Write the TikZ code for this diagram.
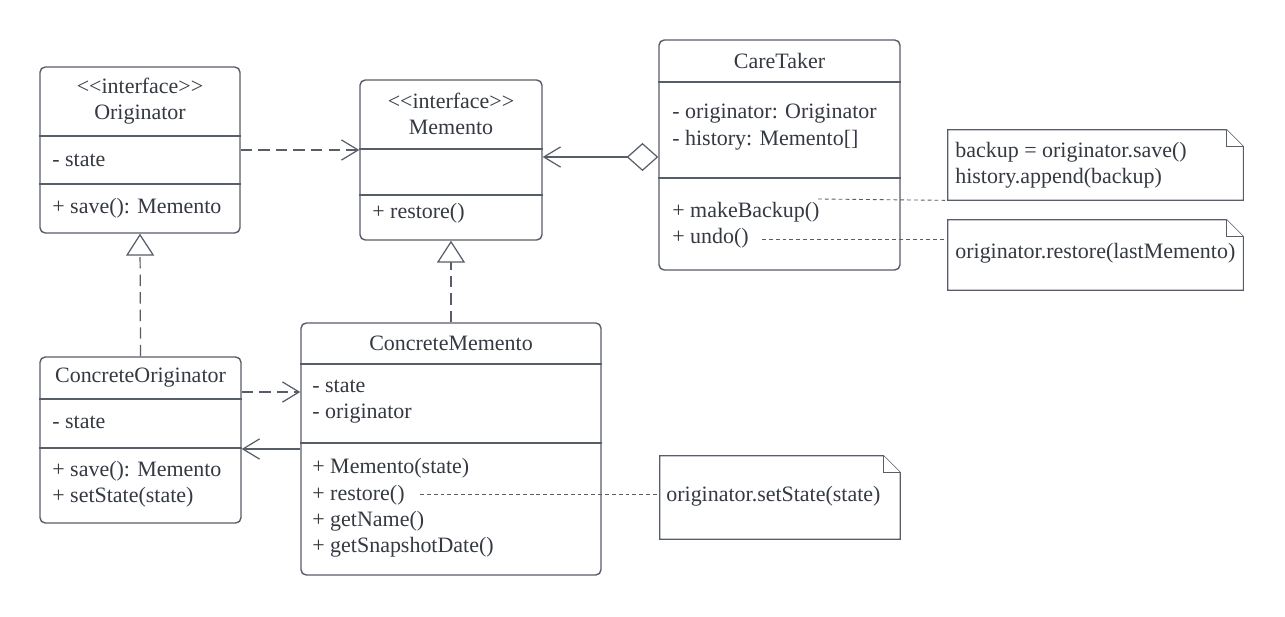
\documentclass[tikz,border=0pt]{standalone}
\usepackage{fontspec}
\setmainfont{Liberation Serif}
\usetikzlibrary{arrows.meta,positioning,fit,calc}

\definecolor{umlline}{RGB}{88,94,104}
\definecolor{umltext}{RGB}{52,57,66}

\begin{document}
\begin{tikzpicture}[x=0.02cm, y=-0.02cm,
  every node/.style={font=\fontsize{12.5}{15}\selectfont, text=umltext},
  cls/.style={draw=umlline, line width=0.8pt, rounded corners=3pt, inner sep=0pt},
  sep/.style={draw=umlline, line width=0.8pt},
  title/.style={align=center, inner sep=0pt},
  member/.style={anchor=west, align=left, inner sep=0pt},
  notebox/.style={draw=umlline, line width=0.7pt, fill=white},
  dep/.style={draw=umlline, line width=0.7pt, dash pattern=on 6.5pt off 3.5pt, -{Straight Barb[length=9.5pt,width=11.5pt]}},
  assoc/.style={draw=umlline, line width=0.7pt, -{Straight Barb[length=9.5pt,width=11.5pt]}},
  real/.style={draw=umlline, line width=0.7pt, dash pattern=on 6.5pt off 3.5pt, -{Triangle[length=12.5pt,width=16pt,fill=white]}},
  agg/.style={draw=umlline, line width=0.7pt, {Diamond[length=18pt,width=16pt,fill=white]}-{Straight Barb[length=9.5pt,width=11.5pt]}},
  link/.style={draw=umlline, line width=0.5pt, dash pattern=on 2.2pt off 1.7pt}
]
\useasboundingbox (0,0) rectangle (1285,616);
\fill[white] (0,0) rectangle (1285,616);

% classes
\node[cls, fit={(40,67) (240,233)}] (originator) {};
\draw[sep] (originator.west |- 0,136) -- (originator.east |- 0,136);
\draw[sep] (originator.west |- 0,184) -- (originator.east |- 0,184);
\node[title] (originatorName) at (140,101) {<\kern0pt<interface>\kern0pt>\\Originator};
\node[member] (originatorAttr) at (52,160) {- state};
\node[member] (originatorOps) at (52,208) {+ save(): Memento};

\node[cls, fit={(360,80) (542,240)}] (memento) {};
\draw[sep] (memento.west |- 0,149) -- (memento.east |- 0,149);
\draw[sep] (memento.west |- 0,195) -- (memento.east |- 0,195);
\node[title] (mementoName) at (451,114) {<\kern0pt<interface>\kern0pt>\\Memento};
\node[member] (mementoOps) at (372,213) {+ restore()};

\node[cls, fit={(659,40) (900,270)}] (caretaker) {};
\draw[sep] (caretaker.west |- 0,82) -- (caretaker.east |- 0,82);
\draw[sep] (caretaker.west |- 0,178) -- (caretaker.east |- 0,178);
\node[title] (caretakerName) at (779.5,61) {CareTaker};
\node[member] (caretakerAttr) at (672,127) {- originator: Originator\\- history: Memento[]};
\node[member] (caretakerOps) at (672,225) {+ makeBackup()\\+ undo()};

\node[cls, fit={(40,357) (241,523)}] (concreteOriginator) {};
\draw[sep] (concreteOriginator.west |- 0,399) -- (concreteOriginator.east |- 0,399);
\draw[sep] (concreteOriginator.west |- 0,448) -- (concreteOriginator.east |- 0,448);
\node[title] (concreteOriginatorName) at (140.5,378) {ConcreteOriginator};
\node[member] (concreteOriginatorAttr) at (52,422) {- state};
\node[member] (concreteOriginatorOps) at (52,484) {+ save(): Memento\\+ setState(state)};

\node[cls, fit={(301,323) (601,575)}] (concreteMemento) {};
\draw[sep] (concreteMemento.west |- 0,364) -- (concreteMemento.east |- 0,364);
\draw[sep] (concreteMemento.west |- 0,443) -- (concreteMemento.east |- 0,443);
\node[title] (concreteMementoName) at (451,343) {ConcreteMemento};
\node[member] (concreteMementoAttr) at (312,402) {- state\\- originator};
\node[member] (concreteMementoOps) at (312,508) {+ Memento(state)\\+ restore()\\+ getName()\\+ getSnapshotDate()};

% notes
\node[inner sep=0pt, fit={(948,130) (1243,200)}] (backupNote) {};
\node[inner sep=0pt, fit={(948,220) (1243,290)}] (undoNote) {};
\node[inner sep=0pt, fit={(660,456) (900,539)}] (restoreNote) {};
\foreach \n in {backupNote,undoNote,restoreNote} {
  \draw[notebox] (\n.north west) -- ($(\n.north east)+(-17,0)$) -- ($(\n.north east)+(0,17)$)
    -- (\n.south east) -- (\n.south west) -- cycle;
  \draw[notebox] ($(\n.north east)+(-17,0)$) -- ($(\n.north east)+(-17,17)$) -- ($(\n.north east)+(0,17)$);
}
\node[member] (backupText) at (955,165) {backup = originator.save()\\history.append(backup)};
\node[member] (undoText) at (955,253) {originator.restore(lastMemento)};
\node[member] (restoreText) at (666,496) {originator.setState(state)};

% relations
\draw[dep] (originator.east |- 0,150) -- (memento.west |- 0,150);
\draw[agg] (caretaker.west |- 0,157) -- (memento.east |- 0,157);
\draw[real] (concreteOriginator.north) -- (originator.south);
\draw[real] (concreteMemento.north) -- (memento.south);
\draw[dep] (concreteOriginator.east |- 0,392) -- (concreteMemento.west |- 0,392);
\draw[assoc] (concreteMemento.west |- 0,449) -- (concreteOriginator.east |- 0,449);

% note links
\coordinate (backupEnd) at (818,199);
\coordinate (undoEnd) at (762,239);
\coordinate (restoreEnd) at (420,494);
\draw[link] (backupEnd) -- (backupNote.south west);
\draw[link] (undoEnd) -- (undoNote.west |- undoEnd);
\draw[link] (restoreEnd) -- (restoreNote.west |- restoreEnd);
\end{tikzpicture}
\end{document}
